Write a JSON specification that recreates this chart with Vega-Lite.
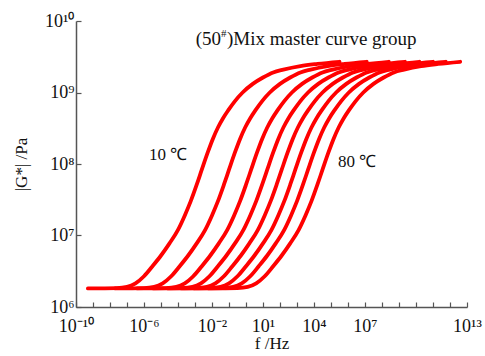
{
  "$schema": "https://vega.github.io/schema/vega-lite/v6.json",
  "width": 391,
  "height": 286,
  "autosize": {"type": "none"},
  "padding": {"left": 76, "top": 21, "right": 18, "bottom": 49},
  "background": "white",
  "config": {
    "view": {"stroke": null},
    "font": "Liberation Serif",
    "axis": {
      "grid": false,
      "domainColor": "#555555",
      "domainWidth": 1.5,
      "tickColor": "#555555",
      "tickWidth": 1.2,
      "labelFont": "Liberation Serif",
      "labelColor": "#111111",
      "labelFontSize": 18,
      "titleFont": "Liberation Serif",
      "titleColor": "#111111",
      "titleFontSize": 17,
      "titleFontWeight": "normal"
    }
  },
  "layer": [
    {
      "data": {"values": [
        {"T":10,"f":5.01e-10,"G":1.82e6},{"T":10,"f":2.51e-8,"G":1.84e6},{"T":10,"f":1e-7,"G":1.91e6},{"T":10,"f":3.16e-7,"G":2.14e6},{"T":10,"f":1e-6,"G":2.69e6},{"T":10,"f":3.16e-6,"G":3.72e6},{"T":10,"f":1e-5,"G":5.25e6},{"T":10,"f":3.16e-5,"G":7.76e6},{"T":10,"f":1e-4,"G":1.2e7},{"T":10,"f":2.51e-4,"G":1.91e7},{"T":10,"f":5.62e-4,"G":3.02e7},{"T":10,"f":1.26e-3,"G":5.13e7},{"T":10,"f":2.51e-3,"G":8.32e7},{"T":10,"f":5.62e-3,"G":1.45e8},{"T":10,"f":1.12e-2,"G":2.24e8},{"T":10,"f":2.24e-2,"G":3.24e8},{"T":10,"f":4.47e-2,"G":4.37e8},{"T":10,"f":8.91e-2,"G":5.62e8},{"T":10,"f":0.224,"G":7.59e8},{"T":10,"f":0.631,"G":1.0e9},{"T":10,"f":2.51,"G":1.32e9},{"T":10,"f":10,"G":1.62e9},{"T":10,"f":39.8,"G":1.91e9},{"T":10,"f":158,"G":2.09e9},{"T":10,"f":1585,"G":2.34e9},{"T":10,"f":15849,"G":2.51e9},{"T":10,"f":316228,"G":2.69e9},
        {"T":20,"f":2.0e-8,"G":1.82e6},{"T":20,"f":1e-6,"G":1.84e6},{"T":20,"f":3.98e-6,"G":1.91e6},{"T":20,"f":1.26e-5,"G":2.14e6},{"T":20,"f":3.98e-5,"G":2.69e6},{"T":20,"f":1.26e-4,"G":3.72e6},{"T":20,"f":3.98e-4,"G":5.25e6},{"T":20,"f":1.26e-3,"G":7.76e6},{"T":20,"f":3.98e-3,"G":1.2e7},{"T":20,"f":1e-2,"G":1.91e7},{"T":20,"f":2.24e-2,"G":3.02e7},{"T":20,"f":5.01e-2,"G":5.13e7},{"T":20,"f":0.1,"G":8.32e7},{"T":20,"f":0.224,"G":1.45e8},{"T":20,"f":0.447,"G":2.24e8},{"T":20,"f":0.891,"G":3.24e8},{"T":20,"f":1.78,"G":4.37e8},{"T":20,"f":3.55,"G":5.62e8},{"T":20,"f":8.91,"G":7.59e8},{"T":20,"f":25.1,"G":1.0e9},{"T":20,"f":100,"G":1.32e9},{"T":20,"f":398,"G":1.62e9},{"T":20,"f":1585,"G":1.91e9},{"T":20,"f":6310,"G":2.09e9},{"T":20,"f":63096,"G":2.34e9},{"T":20,"f":630957,"G":2.51e9},{"T":20,"f":1.26e7,"G":2.69e9},
        {"T":30,"f":3.98e-7,"G":1.82e6},{"T":30,"f":2.0e-5,"G":1.84e6},{"T":30,"f":7.94e-5,"G":1.91e6},{"T":30,"f":2.51e-4,"G":2.14e6},{"T":30,"f":7.94e-4,"G":2.69e6},{"T":30,"f":2.51e-3,"G":3.72e6},{"T":30,"f":7.94e-3,"G":5.25e6},{"T":30,"f":2.51e-2,"G":7.76e6},{"T":30,"f":7.94e-2,"G":1.2e7},{"T":30,"f":0.2,"G":1.91e7},{"T":30,"f":0.447,"G":3.02e7},{"T":30,"f":1,"G":5.13e7},{"T":30,"f":2.0,"G":8.32e7},{"T":30,"f":4.47,"G":1.45e8},{"T":30,"f":8.91,"G":2.24e8},{"T":30,"f":17.8,"G":3.24e8},{"T":30,"f":35.5,"G":4.37e8},{"T":30,"f":70.8,"G":5.62e8},{"T":30,"f":178,"G":7.59e8},{"T":30,"f":501,"G":1.0e9},{"T":30,"f":1995,"G":1.32e9},{"T":30,"f":7943,"G":1.62e9},{"T":30,"f":31623,"G":1.91e9},{"T":30,"f":125893,"G":2.09e9},{"T":30,"f":1.26e6,"G":2.34e9},{"T":30,"f":1.26e7,"G":2.51e9},{"T":30,"f":2.51e8,"G":2.69e9},
        {"T":40,"f":3.55e-6,"G":1.82e6},{"T":40,"f":1.78e-4,"G":1.84e6},{"T":40,"f":7.08e-4,"G":1.91e6},{"T":40,"f":2.24e-3,"G":2.14e6},{"T":40,"f":7.08e-3,"G":2.69e6},{"T":40,"f":2.24e-2,"G":3.72e6},{"T":40,"f":7.08e-2,"G":5.25e6},{"T":40,"f":0.224,"G":7.76e6},{"T":40,"f":0.708,"G":1.2e7},{"T":40,"f":1.78,"G":1.91e7},{"T":40,"f":3.98,"G":3.02e7},{"T":40,"f":8.91,"G":5.13e7},{"T":40,"f":17.8,"G":8.32e7},{"T":40,"f":39.8,"G":1.45e8},{"T":40,"f":79.4,"G":2.24e8},{"T":40,"f":158,"G":3.24e8},{"T":40,"f":316,"G":4.37e8},{"T":40,"f":631,"G":5.62e8},{"T":40,"f":1585,"G":7.59e8},{"T":40,"f":4467,"G":1.0e9},{"T":40,"f":17783,"G":1.32e9},{"T":40,"f":70795,"G":1.62e9},{"T":40,"f":281838,"G":1.91e9},{"T":40,"f":1.12e6,"G":2.09e9},{"T":40,"f":1.12e7,"G":2.34e9},{"T":40,"f":1.12e8,"G":2.51e9},{"T":40,"f":2.24e9,"G":2.69e9},
        {"T":50,"f":2.51e-5,"G":1.82e6},{"T":50,"f":1.26e-3,"G":1.84e6},{"T":50,"f":5.01e-3,"G":1.91e6},{"T":50,"f":1.58e-2,"G":2.14e6},{"T":50,"f":5.01e-2,"G":2.69e6},{"T":50,"f":0.158,"G":3.72e6},{"T":50,"f":0.501,"G":5.25e6},{"T":50,"f":1.58,"G":7.76e6},{"T":50,"f":5.01,"G":1.2e7},{"T":50,"f":12.6,"G":1.91e7},{"T":50,"f":28.2,"G":3.02e7},{"T":50,"f":63.1,"G":5.13e7},{"T":50,"f":126,"G":8.32e7},{"T":50,"f":282,"G":1.45e8},{"T":50,"f":562,"G":2.24e8},{"T":50,"f":1122,"G":3.24e8},{"T":50,"f":2239,"G":4.37e8},{"T":50,"f":4467,"G":5.62e8},{"T":50,"f":11220,"G":7.59e8},{"T":50,"f":31623,"G":1.0e9},{"T":50,"f":125893,"G":1.32e9},{"T":50,"f":501187,"G":1.62e9},{"T":50,"f":2.0e6,"G":1.91e9},{"T":50,"f":7.94e6,"G":2.09e9},{"T":50,"f":7.94e7,"G":2.34e9},{"T":50,"f":7.94e8,"G":2.51e9},{"T":50,"f":1.58e10,"G":2.69e9},
        {"T":60,"f":1.58e-4,"G":1.82e6},{"T":60,"f":7.94e-3,"G":1.84e6},{"T":60,"f":3.16e-2,"G":1.91e6},{"T":60,"f":0.1,"G":2.14e6},{"T":60,"f":0.316,"G":2.69e6},{"T":60,"f":1,"G":3.72e6},{"T":60,"f":3.16,"G":5.25e6},{"T":60,"f":10,"G":7.76e6},{"T":60,"f":31.6,"G":1.2e7},{"T":60,"f":79.4,"G":1.91e7},{"T":60,"f":178,"G":3.02e7},{"T":60,"f":398,"G":5.13e7},{"T":60,"f":794,"G":8.32e7},{"T":60,"f":1778,"G":1.45e8},{"T":60,"f":3548,"G":2.24e8},{"T":60,"f":7079,"G":3.24e8},{"T":60,"f":14125,"G":4.37e8},{"T":60,"f":28184,"G":5.62e8},{"T":60,"f":70795,"G":7.59e8},{"T":60,"f":199526,"G":1.0e9},{"T":60,"f":794328,"G":1.32e9},{"T":60,"f":3.16e6,"G":1.62e9},{"T":60,"f":1.26e7,"G":1.91e9},{"T":60,"f":5.01e7,"G":2.09e9},{"T":60,"f":5.01e8,"G":2.34e9},{"T":60,"f":5.01e9,"G":2.51e9},{"T":60,"f":1e11,"G":2.69e9},
        {"T":70,"f":8.91e-4,"G":1.82e6},{"T":70,"f":4.47e-2,"G":1.84e6},{"T":70,"f":0.178,"G":1.91e6},{"T":70,"f":0.562,"G":2.14e6},{"T":70,"f":1.78,"G":2.69e6},{"T":70,"f":5.62,"G":3.72e6},{"T":70,"f":17.8,"G":5.25e6},{"T":70,"f":56.2,"G":7.76e6},{"T":70,"f":178,"G":1.2e7},{"T":70,"f":447,"G":1.91e7},{"T":70,"f":1000,"G":3.02e7},{"T":70,"f":2239,"G":5.13e7},{"T":70,"f":4467,"G":8.32e7},{"T":70,"f":10000,"G":1.45e8},{"T":70,"f":19953,"G":2.24e8},{"T":70,"f":39811,"G":3.24e8},{"T":70,"f":79433,"G":4.37e8},{"T":70,"f":158489,"G":5.62e8},{"T":70,"f":398107,"G":7.59e8},{"T":70,"f":1.12e6,"G":1.0e9},{"T":70,"f":4.47e6,"G":1.32e9},{"T":70,"f":1.78e7,"G":1.62e9},{"T":70,"f":7.08e7,"G":1.91e9},{"T":70,"f":2.82e8,"G":2.09e9},{"T":70,"f":2.82e9,"G":2.34e9},{"T":70,"f":2.82e10,"G":2.51e9},{"T":70,"f":5.62e11,"G":2.69e9},
        {"T":80,"f":6.31e-3,"G":1.82e6},{"T":80,"f":0.316,"G":1.84e6},{"T":80,"f":1.26,"G":1.91e6},{"T":80,"f":3.98,"G":2.14e6},{"T":80,"f":12.6,"G":2.69e6},{"T":80,"f":39.8,"G":3.72e6},{"T":80,"f":126,"G":5.25e6},{"T":80,"f":398,"G":7.76e6},{"T":80,"f":1259,"G":1.2e7},{"T":80,"f":3162,"G":1.91e7},{"T":80,"f":7079,"G":3.02e7},{"T":80,"f":15849,"G":5.13e7},{"T":80,"f":31623,"G":8.32e7},{"T":80,"f":70795,"G":1.45e8},{"T":80,"f":141254,"G":2.24e8},{"T":80,"f":281838,"G":3.24e8},{"T":80,"f":562341,"G":4.37e8},{"T":80,"f":1.12e6,"G":5.62e8},{"T":80,"f":2.82e6,"G":7.59e8},{"T":80,"f":7.94e6,"G":1.0e9},{"T":80,"f":3.16e7,"G":1.32e9},{"T":80,"f":1.26e8,"G":1.62e9},{"T":80,"f":5.01e8,"G":1.91e9},{"T":80,"f":2.0e9,"G":2.09e9},{"T":80,"f":2.0e10,"G":2.34e9},{"T":80,"f":2.0e11,"G":2.51e9},{"T":80,"f":3.98e12,"G":2.69e9}
      ]},
      "mark": {"type": "line", "color": "#ff0000", "strokeWidth": 3.8, "interpolate": "monotone", "strokeCap": "round", "strokeJoin": "round"},
      "encoding": {
        "x": {
          "field": "f", "type": "quantitative",
          "scale": {"type": "log", "domain": [1e-10, 1e13], "nice": false},
          "axis": {
            "title": "f /Hz",
            "values": [1e-10,1e-9,1e-8,1e-7,1e-6,1e-5,1e-4,1e-3,1e-2,1e-1,1,10,100,1000,1e4,1e5,1e6,1e7,1e8,1e9,1e10,1e11,1e12,1e13],
            "labelExpr": "round(log(datum.value)/LN10) == -10 ? '10⁻¹⁰' : round(log(datum.value)/LN10) == -6 ? '10⁻⁶' : round(log(datum.value)/LN10) == -2 ? '10⁻²' : round(log(datum.value)/LN10) == 1 ? '10¹' : round(log(datum.value)/LN10) == 4 ? '10⁴' : round(log(datum.value)/LN10) == 7 ? '10⁷' : round(log(datum.value)/LN10) == 13 ? '10¹³' : ''",
            "tickSize": -5,
            "labelPadding": 15,
            "labelOverlap": false,
            "labelFlush": false,
            "titlePadding": 0
          }
        },
        "y": {
          "field": "G", "type": "quantitative",
          "scale": {"type": "log", "domain": [1e6, 1e10], "nice": false},
          "axis": {
            "title": "|G*| /Pa",
            "values": [1e6, 1e7, 1e8, 1e9, 1e10],
            "labelExpr": "round(log(datum.value)/LN10) == 6 ? '10⁶' : round(log(datum.value)/LN10) == 7 ? '10⁷' : round(log(datum.value)/LN10) == 8 ? '10⁸' : round(log(datum.value)/LN10) == 9 ? '10⁹' : '10¹⁰'",
            "tickSize": -5,
            "labelPadding": 7,
            "labelFlush": false,
            "titlePadding": 14
          }
        },
        "detail": {"field": "T", "type": "nominal"}
      }
    },
    {
      "data": {"values": [
        {"label": "10 ℃", "f": 2.6e-5, "G": 1.35e8},
        {"label": "80 ℃", "f": 3.4e6, "G": 1.07e8}
      ]},
      "mark": {"type": "text", "font": "Liberation Serif", "fontSize": 17, "color": "#111111", "align": "center", "baseline": "middle"},
      "encoding": {
        "x": {"field": "f", "type": "quantitative"},
        "y": {"field": "G", "type": "quantitative"},
        "text": {"field": "label"}
      }
    },
    {
      "data": {"values": [{"label": "(50", "f": 3.39e-2, "G": 4.61e9}]},
      "mark": {"type": "text", "font": "Liberation Serif", "fontSize": 19, "color": "#111111", "align": "right", "baseline": "alphabetic"},
      "encoding": {
        "x": {"field": "f", "type": "quantitative"},
        "y": {"field": "G", "type": "quantitative"},
        "text": {"field": "label"}
      }
    },
    {
      "data": {"values": [{"label": "#", "f": 3.39e-2, "G": 4.61e9}]},
      "mark": {"type": "text", "font": "Liberation Serif", "fontSize": 11, "color": "#111111", "align": "left", "baseline": "alphabetic", "dx": 0, "dy": -8},
      "encoding": {
        "x": {"field": "f", "type": "quantitative"},
        "y": {"field": "G", "type": "quantitative"},
        "text": {"field": "label"}
      }
    },
    {
      "data": {"values": [{"label": ")Mix master curve group", "f": 3.39e-2, "G": 4.61e9}]},
      "mark": {"type": "text", "font": "Liberation Serif", "fontSize": 19, "color": "#111111", "align": "left", "baseline": "alphabetic", "dx": 6},
      "encoding": {
        "x": {"field": "f", "type": "quantitative"},
        "y": {"field": "G", "type": "quantitative"},
        "text": {"field": "label"}
      }
    }
  ]
}
